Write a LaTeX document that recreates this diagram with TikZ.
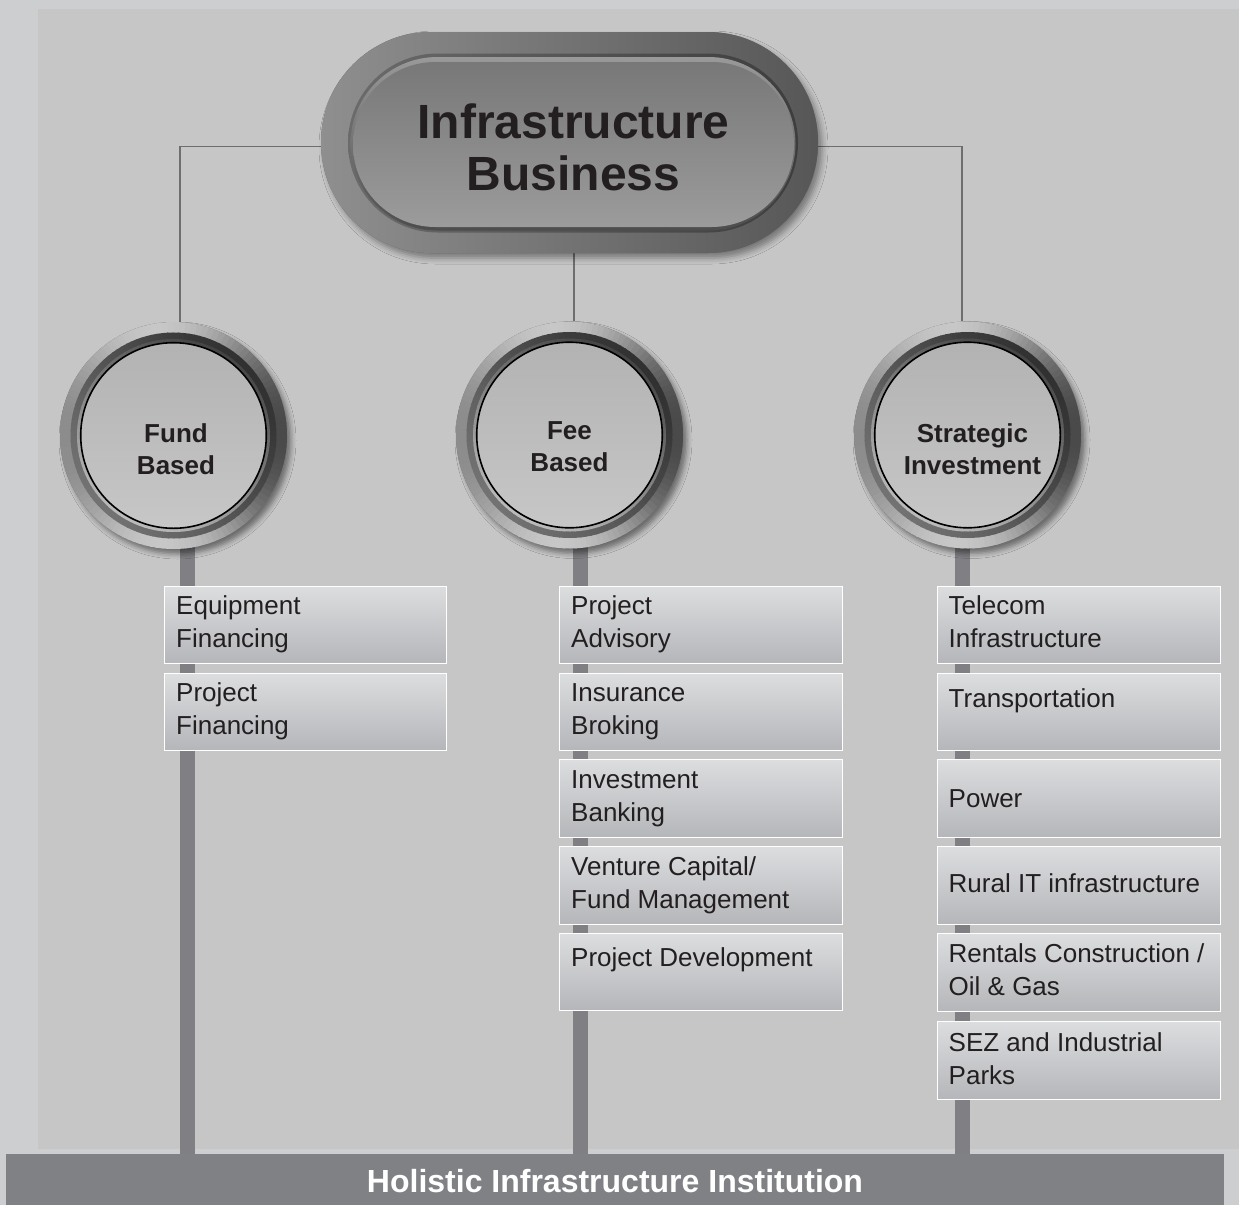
\documentclass[tikz,border=0pt]{standalone}
\usepackage{fontspec}
\setmainfont{Liberation Sans}
\usetikzlibrary{calc,shapes.misc,shadows.blur}

\definecolor{pagebg}{HTML}{CDCECF}
\definecolor{panelbg}{HTML}{C6C6C6}
\definecolor{stemgray}{HTML}{808084}
\definecolor{linkgray}{HTML}{6E6E6E}
\definecolor{inkdark}{HTML}{231F20}
\definecolor{boxtop}{HTML}{DCDDDF}
\definecolor{boxbot}{HTML}{B5B6B9}
\definecolor{bargray}{HTML}{808185}

% left-aligned / centred line stacks whose baseline is the first line
\newcommand\leftlines[1]{\begin{tabular}[t]{@{}l@{}}#1\end{tabular}}
\newcommand\midlines[1]{\begin{tabular}[t]{@{}c@{}}#1\end{tabular}}

% metallic button drawn around a named hub node
\newcommand\hubdeco[1]{%
  \path[fill=black!60, blur shadow={shadow xshift=4pt, shadow yshift=-5pt,
        shadow blur radius=5pt, shadow opacity=45}] (#1.center) circle[radius=113.5];
  \foreach \a in {0,3,...,357}{%
    \pgfmathsetmacro\g{58-35*abs(sin(\a))^2.5+13*cos(\a)}%
    \fill[black!\g!white] (#1.center) -- ++(\a:113.5)
      arc[start angle=\a, end angle=\a+3.6, radius=113.5] -- cycle;
  }
  \foreach \a in {0,3,...,357}{%
    \pgfmathsetmacro\g{68+8*sin(\a)+10*cos(\a)}%
    \fill[black!\g!white] (#1.center) -- ++(\a:103)
      arc[start angle=\a, end angle=\a+3.6, radius=103] -- cycle;
  }
  \foreach \a in {0,3,...,357}{%
    \pgfmathsetmacro\g{50+20*sin(\a)+12*cos(\a)}%
    \fill[black!\g!white] (#1.center) -- ++(\a:96.5)
      arc[start angle=\a, end angle=\a+3.6, radius=96.5] -- cycle;
  }
  \shade[top color=black!30, bottom color=black!22, draw=black, line width=1.6pt]
    (#1.center) circle[radius=92.8];
}

\tikzset{
  hub/.style={circle, minimum size=227pt, inner sep=0pt},
  itembox/.style={rectangle, anchor=north west, draw=white, line width=1.4pt,
    top color=boxtop, bottom color=boxbot, minimum height=77.5pt, inner sep=0pt},
  itemtext/.style={anchor=base west, inner sep=0pt, text=inkdark,
    font=\fontsize{26}{33}\selectfont},
  hubtext/.style={anchor=base, inner sep=0pt, text=inkdark,
    font=\bfseries\fontsize{26}{32}\selectfont},
  link/.style={draw=linkgray, line width=1.3pt},
  stembar/.style={draw=stemgray, line width=15pt},
}

\begin{document}
\begin{tikzpicture}[x=1pt,y=1pt]
\useasboundingbox (0,0) rectangle (1239,-1205);
\fill[pagebg] (0,0) rectangle (1239,-1205);
\fill[panelbg] (38,-9) rectangle (1239,-1149);

% placeholders for the main elements
\node[rounded rectangle, minimum width=497pt, minimum height=221pt, inner sep=0pt]
  (pill) at (569.5,-142.5) {};
\node[hub] (fund)  at (173.5,-435.5) {};
\node[hub] (fee)   at (569.5,-435)   {};
\node[hub] (strat) at (967.5,-435)   {};
\node[rectangle, fill=bargray, minimum width=1218pt, minimum height=51pt,
      inner sep=0pt, text=white, font=\bfseries\fontsize{32}{36}\selectfont,
      text height=26.5pt, text depth=0pt]
  (bar) at (615,-1179.5) {Holistic Infrastructure Institution};

% thin connectors from the top pill to the three hubs
\coordinate (pl) at ($(pill.west)+(0,-4)$);
\coordinate (pr) at ($(pill.east)+(0,-4)$);
\coordinate (pb) at ($(pill.south)+(4.5,0)$);
\coordinate (fundtop)  at ($(fund.north)+(6.5,0)$);
\coordinate (feetop)   at ($(fee.north)+(4.5,0)$);
\coordinate (strattop) at ($(strat.north)+(-5.5,0)$);
\draw[link] (pl) -| (fundtop);
\draw[link] (pr) -| (strattop);
\draw[link] (pb) -- (feetop);

% thick stems from each hub down to the base bar
\coordinate (stemL) at ($(fund.center)+(13.5,0)$);
\coordinate (stemM) at ($(fee.center)+(11,0)$);
\coordinate (stemR) at ($(strat.center)+(-5.5,0)$);
\draw[stembar] (stemL) -- (stemL |- bar.north);
\draw[stembar] (stemM) -- (stemM |- bar.north);
\draw[stembar] (stemR) -- (stemR |- bar.north);

% top pill: shadow, bevel, dark ring, inner bevel, face
\path[fill=black!60, rounded corners=110pt, blur shadow={shadow xshift=4pt,
      shadow yshift=-5pt, shadow blur radius=6pt, shadow opacity=40}]
  (321,-32) rectangle (818,-253);
\shade[rounded corners=110pt, left color=black!44, middle color=black!15, right color=black!66]
  (321,-32) rectangle (818,-253);
\shade[rounded corners=89.5pt, left color=black!58, right color=black!76]
  (348,-53.5) rectangle (798,-232.5);
\shade[rounded corners=87pt, top color=black!40, bottom color=black!70]
  (350.5,-57) rectangle (795.5,-230.5);
\shade[rounded corners=82.5pt, top color=black!53, bottom color=black!39]
  (353,-62) rectangle (794,-227);
\node[anchor=base, inner sep=0pt, text=inkdark, font=\bfseries\fontsize{48}{52}\selectfont]
  (title) at (573.5,-138) {\midlines{Infrastructure\\Business}};

% the three hubs
\hubdeco{fund}
\hubdeco{fee}
\hubdeco{strat}
\node[hubtext] (fundlbl)  at ($(fund.center)+(2.5,-7)$)  {\midlines{Fund\\Based}};
\node[hubtext] (feelbl)   at ($(fee.center)+(0,-4)$)     {\midlines{Fee\\Based}};
\node[hubtext] (stratlbl) at ($(strat.center)+(5,-7)$)   {\midlines{Strategic\\Investment}};

% fund based items
\node[itembox, minimum width=282pt] (f1) at (164,-585.5) {};
\node[itembox, minimum width=282pt] (f2) at (164,-672.5) {};
\node[itemtext] (f1t) at ($(f1.north west)+(12,-29)$) {\leftlines{Equipment\\Financing}};
\node[itemtext] (f2t) at ($(f2.north west)+(12,-29)$) {\leftlines{Project\\Financing}};

% fee based items
\node[itembox, minimum width=283pt] (m1) at (559,-585.5) {};
\node[itembox, minimum width=283pt] (m2) at (559,-672.5) {};
\node[itembox, minimum width=283pt] (m3) at (559,-759)   {};
\node[itembox, minimum width=283pt] (m4) at (559,-846)   {};
\node[itembox, minimum width=283pt] (m5) at (559,-932.5) {};
\node[itemtext] (m1t) at ($(m1.north west)+(12,-29)$) {\leftlines{Project\\Advisory}};
\node[itemtext] (m2t) at ($(m2.north west)+(12,-29)$) {\leftlines{Insurance\\Broking}};
\node[itemtext] (m3t) at ($(m3.north west)+(12,-29)$) {\leftlines{Investment\\Banking}};
\node[itemtext] (m4t) at ($(m4.north west)+(12,-29)$) {\leftlines{Venture Capital/\\Fund Management}};
\node[itemtext] (m5t) at ($(m5.north west)+(12,-33.5)$) {Project Development};

% strategic investment items
\node[itembox, minimum width=283pt] (s1) at (936.5,-585.5) {};
\node[itembox, minimum width=283pt] (s2) at (936.5,-672.5) {};
\node[itembox, minimum width=283pt] (s3) at (936.5,-759)   {};
\node[itembox, minimum width=283pt] (s4) at (936.5,-846)   {};
\node[itembox, minimum width=283pt] (s5) at (936.5,-933)   {};
\node[itembox, minimum width=283pt] (s6) at (936.5,-1021)  {};
\node[itemtext] (s1t) at ($(s1.north west)+(12,-29)$) {\leftlines{Telecom\\Infrastructure}};
\node[itemtext] (s2t) at ($(s2.north west)+(12,-35)$) {Transportation};
\node[itemtext] (s3t) at ($(s3.north west)+(12,-48)$) {Power};
\node[itemtext] (s4t) at ($(s4.north west)+(12,-46.5)$) {Rural IT infrastructure};
\node[itemtext] (s5t) at ($(s5.north west)+(12,-29)$) {\leftlines{Rentals Construction /\\Oil \& Gas}};
\node[itemtext] (s6t) at ($(s6.north west)+(12,-30)$) {\leftlines{SEZ and Industrial\\Parks}};
\end{tikzpicture}
\end{document}
